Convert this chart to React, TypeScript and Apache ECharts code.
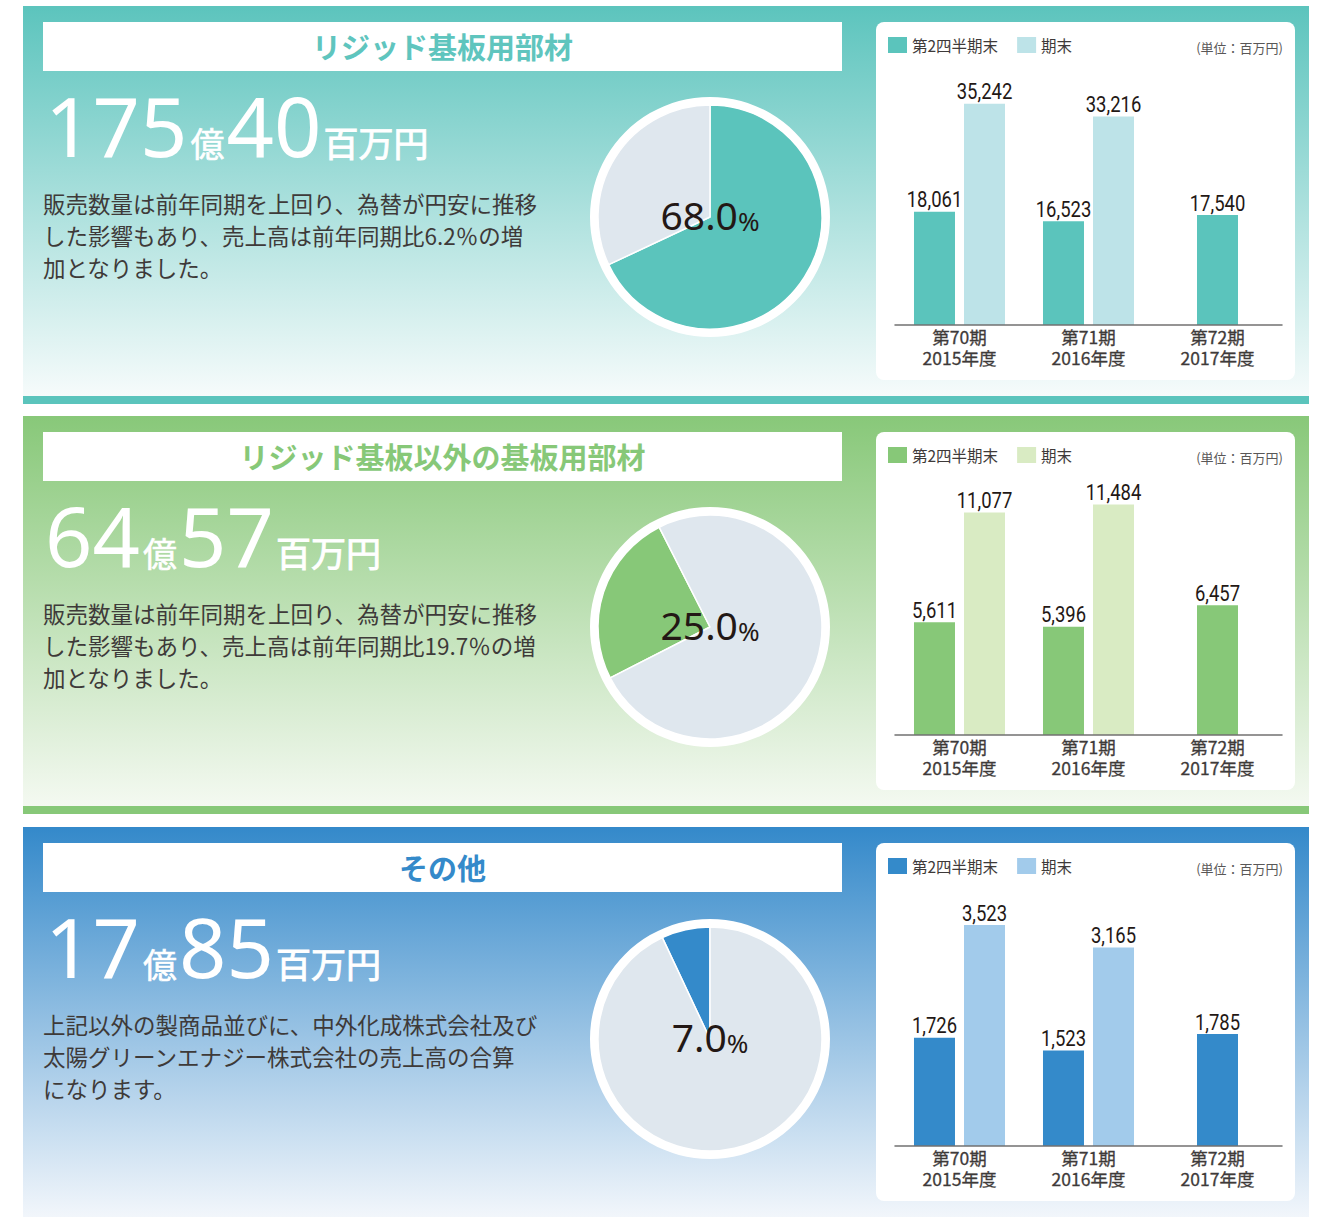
import React, { useEffect, useRef } from 'react';
import * as echarts from 'echarts';

// ---- data ----
const periods = ['第70期', '第71期', '第72期'];
const years = ['2015年度', '2016年度', '2017年度'];
const legendNames = ['第2四半期末', '期末'];
const unitLabel = '(単位：百万円)';

const titles = ['リジッド基板用部材', 'リジッド基板以外の基板用部材', 'その他'];
const salesOku = ['175', '64', '17'];
const salesMillion = ['40', '57', '85'];
const shares = [68.0, 25.0, 7.0];

const rigidQ2 = [18061, 16523, 17540];
const rigidFY = [35242, 33216, null];
const nonRigidQ2 = [5611, 5396, 6457];
const nonRigidFY = [11077, 11484, null];
const othersQ2 = [1726, 1523, 1785];
const othersFY = [3523, 3165, null];

const descRigid = [
  '販売数量は前年同期を上回り、為替が円安に推移',
  'した影響もあり、売上高は前年同期比6.2％の増',
  '加となりました。',
];
const descNonRigid = [
  '販売数量は前年同期を上回り、為替が円安に推移',
  'した影響もあり、売上高は前年同期比19.7％の増',
  '加となりました。',
];
const descOthers = [
  '上記以外の製商品並びに、中外化成株式会社及び',
  '太陽グリーンエナジー株式会社の売上高の合算',
  'になります。',
];

const categories = periods.map((p, i) => p + '\n' + years[i]);

// ---- styling per panel ----
const panels = [
  {
    idx: 0, q2: rigidQ2, fy: rigidFY, desc: descRigid, yMax: 40000,
    main: '#5bc4bc', light: '#bde3e8', title: '#5fc5be',
    bgTop: '#5cc4bd', bgBottom: '#f6fbfb', startAngle: 90, clockwise: true,
    height: 410, shift: 0, pieY: 217,
  },
  {
    idx: 1, q2: nonRigidQ2, fy: nonRigidFY, desc: descNonRigid, yMax: 12500,
    main: '#87c878', light: '#d9ebc3', title: '#87c878',
    bgTop: '#88c879', bgBottom: '#f4f9f1', startAngle: 207, clockwise: true,
    height: 410, shift: 0, pieY: 217,
  },
  {
    idx: 2, q2: othersQ2, fy: othersFY, desc: descOthers, yMax: 4000,
    main: '#348aca', light: '#a2cbeb', title: '#348aca',
    bgTop: '#3489ca', bgBottom: '#f2f6fb', startAngle: 90, clockwise: false,
    height: 397, shift: 1, pieY: 219,
  },
];

const JP = "'Noto Sans CJK JP', 'Noto Sans', sans-serif";
const NUM = "'Noto Sans', 'Open Sans', sans-serif";
const LABEL_FONT = "Roboto, 'Noto Sans', sans-serif";

const BAR_W = 41;
const BAR_GAP_PX = 9;

function labelSeries(data: any[], xAxisIndex: number, dx: number) {
  return {
    type: 'custom',
    xAxisIndex,
    yAxisIndex: 0,
    silent: true,
    z: 4,
    encode: { x: 0, y: 1 },
    data: data.map((v, k) => (v == null ? null : [k, v])).filter((d) => d != null),
    renderItem: (_params: any, api: any) => {
      const v = api.value(1);
      const c = api.coord([api.value(0), v]);
      return {
        type: 'text',
        x: c[0] + dx,
        y: c[1] - 1,
        scaleX: 0.84,
        style: {
          text: Number(v).toLocaleString('en-US'),
          fontSize: 22,
          fontFamily: LABEL_FONT,
          fill: '#231815',
          align: 'center',
          verticalAlign: 'bottom',
        },
      };
    },
  };
}

function buildOption(p: any) {
  const s = p.shift;
  const i = p.idx;
  const q2Pair = p.q2.map((v: number, k: number) => (p.fy[k] == null ? null : v));
  const q2Single = p.q2.map((v: number, k: number) => (p.fy[k] == null ? v : null));
  const half = (BAR_W + BAR_GAP_PX) / 2;
  const share = shares[i];
  return {
    animation: false,
    textStyle: { fontFamily: JP },
    graphic: [
      {
        type: 'rect', z: 0,
        shape: { x: 23, y: 6 + s, width: 1286, height: 390 },
        style: {
          fill: new echarts.graphic.LinearGradient(0, 0, 0, 1, [
            { offset: 0, color: p.bgTop },
            { offset: 1, color: p.bgBottom },
          ]),
        },
      },
      { type: 'rect', z: 0, shape: { x: 23, y: 396 + s, width: 1286, height: 8 }, style: { fill: p.main } },
      { type: 'rect', z: 0, shape: { x: 43, y: 22 + s, width: 799, height: 49 }, style: { fill: '#ffffff' } },
      {
        type: 'text', z: 1, x: 442.5, y: 46 + s,
        style: {
          text: titles[i], fill: p.title, fontSize: 29, fontWeight: 'bold', fontFamily: JP,
          align: 'center', verticalAlign: 'middle',
        },
      },
      {
        type: 'text', z: 1, x: 45, y: 166 + s,
        style: {
          text: `{n|${salesOku[i]}}{u|億}{n|${salesMillion[i]}}{m|百万円}`,
          verticalAlign: 'bottom', align: 'left',
          rich: {
            n: { fontSize: 83, fontFamily: NUM, fontWeight: 'normal', fill: '#ffffff', lineHeight: 82, verticalAlign: 'bottom' },
            u: { fontSize: 34, fontFamily: JP, fill: '#ffffff', stroke: '#ffffff', lineWidth: 0.6, lineHeight: 40, verticalAlign: 'bottom', padding: [0, 2, 7, 3] },
            m: { fontSize: 35, fontFamily: JP, fontWeight: 'normal', fill: '#ffffff', stroke: '#ffffff', lineWidth: 0.9, lineHeight: 40, verticalAlign: 'bottom', padding: [0, 0, 7, 2] },
          },
        },
      },
      {
        type: 'text', z: 1, x: 43, y: 187 + s,
        style: {
          text: p.desc.join('\n'), fill: '#3e3a39', fontSize: 22.5, fontFamily: JP,
          lineHeight: 32, align: 'left', verticalAlign: 'top',
        },
      },
      { type: 'rect', z: 0, shape: { x: 876, y: 22 + s, width: 419, height: 358, r: 8 }, style: { fill: '#ffffff' } },
      {
        type: 'text', z: 1, x: 1283, y: 47 + s,
        style: {
          text: unitLabel, fill: '#595757', fontSize: 13, fontFamily: JP,
          align: 'right', verticalAlign: 'middle',
        },
      },
    ],
    legend: {
      left: 888, top: 37 + s, padding: 0, z: 5,
      itemWidth: 19, itemHeight: 16, itemGap: 19,
      icon: 'rect',
      data: legendNames,
      textStyle: { fontSize: 15.5, color: '#3e3a39', fontFamily: JP },
      selectedMode: false,
    },
    grid: { left: 895, top: 74 + s, width: 387, height: 251 },
    xAxis: [
      {
        type: 'category', gridIndex: 0, data: categories, z: 5,
        axisLine: { lineStyle: { color: '#727171', width: 1.5 } },
        axisTick: { show: false },
        axisLabel: {
          fontSize: 17.5, lineHeight: 21, color: '#3e3a39', margin: 1, fontFamily: JP, interval: 0,
          textBorderColor: '#3e3a39', textBorderWidth: 0.3,
        },
      },
      {
        type: 'category', gridIndex: 0, data: categories, show: false,
        axisLabel: { show: false }, axisLine: { show: false }, axisTick: { show: false },
      },
    ],
    yAxis: { type: 'value', min: 0, max: p.yMax, show: false, splitLine: { show: false } },
    series: [
      {
        type: 'bar', name: legendNames[0], xAxisIndex: 0, data: q2Pair,
        barWidth: BAR_W, barGap: '22%', itemStyle: { color: p.main }, z: 3,
      },
      {
        type: 'bar', name: legendNames[1], xAxisIndex: 0, data: p.fy,
        barWidth: BAR_W, barGap: '22%', itemStyle: { color: p.light }, z: 3,
      },
      {
        type: 'bar', name: legendNames[0], xAxisIndex: 1, data: q2Single,
        barWidth: BAR_W, itemStyle: { color: p.main }, z: 3,
      },
      labelSeries(q2Pair, 0, -half),
      labelSeries(p.fy, 0, half),
      labelSeries(q2Single, 1, 0),
      {
        type: 'pie', silent: true, center: [710, p.pieY], radius: [0, 120],
        data: [{ value: 1, itemStyle: { color: '#ffffff' } }],
        label: { show: false }, labelLine: { show: false }, emphasis: { disabled: true }, z: 2,
      },
      {
        type: 'pie', silent: true, center: [710, p.pieY], radius: [0, 112],
        startAngle: p.startAngle, clockwise: p.clockwise, avoidLabelOverlap: false,
        itemStyle: { borderColor: '#ffffff', borderWidth: 1.5 },
        label: { show: false }, labelLine: { show: false }, emphasis: { disabled: true }, z: 3,
        labelLayout: { dy: -3 },
        data: [
          {
            value: share, itemStyle: { color: p.main },
            label: {
              show: true, position: 'center',
              formatter: `{a|${share.toFixed(1)}}{b|%}`,
              rich: {
                a: { fontSize: 39, fontFamily: NUM, color: '#231815', verticalAlign: 'bottom', lineHeight: 40 },
                b: { fontSize: 26, fontFamily: NUM, color: '#231815', verticalAlign: 'bottom', lineHeight: 34 },
              },
            },
          },
          { value: 100 - share, itemStyle: { color: '#dfe7ee' } },
        ],
      },
    ],
  };
}

function Panel({ cfg }: { cfg: any }) {
  const ref = useRef<HTMLDivElement>(null);
  useEffect(() => {
    const chart = echarts.init(ref.current as HTMLDivElement, null, { renderer: 'svg' });
    chart.setOption(buildOption(cfg) as any);
    return () => chart.dispose();
  }, [cfg]);
  return <div ref={ref} style={{ width: 1322, height: cfg.height }} />;
}

export default function App() {
  return (
    <div style={{ position: 'absolute', left: 0, top: 0, width: 1322, height: 1217, background: '#ffffff' }}>
      {panels.map((p) => (
        <Panel key={p.idx} cfg={p} />
      ))}
    </div>
  );
}
